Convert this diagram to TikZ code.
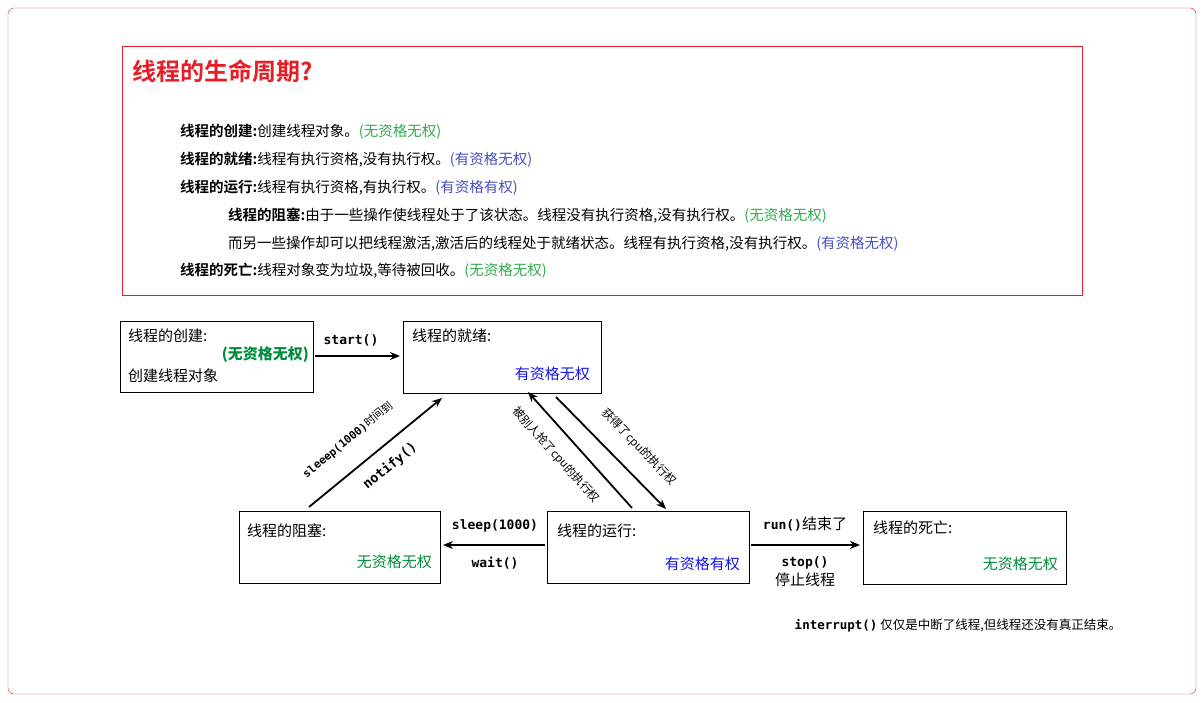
\documentclass[tikz,border=0pt]{standalone}
\usepackage{fontspec}
\setmainfont{Noto Sans CJK SC}
\setmonofont{DejaVu Sans Mono}
\newfontfamily\cjkb{Noto Sans CJK SC Bold}
\usetikzlibrary{arrows.meta}
\definecolor{tred}{RGB}{230,30,40}
\definecolor{tgreen}{RGB}{50,170,80}
\definecolor{tblue}{RGB}{70,80,190}
\definecolor{bgreen}{RGB}{0,140,60}
\definecolor{bblue}{RGB}{20,20,230}
\begin{document}
\begin{tikzpicture}[x=1pt,y=-1pt,
  arr/.style={-{Stealth[length=10pt,width=8pt]},line width=1.8pt},
  tx/.style={font=\fontsize{14.5}{16}\selectfont,anchor=west,inner sep=0},
  lb/.style={font=\fontsize{15}{17}\selectfont,inner sep=0},
  mb/.style={font=\ttfamily\bfseries\fontsize{13}{15}\selectfont,inner sep=0}]
\useasboundingbox (0,0) rectangle (1204,703);
\draw[tred,rounded corners=6pt] (8,8) rectangle (1196,694);
\draw[tred] (122,46) rectangle (1082,295);
\node[anchor=west,inner sep=0,text=tred,font=\cjkb\fontsize{24}{26}\selectfont] (title) at (132,71) {线程的生命周期?};
\node[tx] (l1) at (180,132) {{\cjkb 线程的创建:}创建线程对象。\textcolor{tgreen}{(无资格无权)}};
\node[tx] (l2) at (180,160) {{\cjkb 线程的就绪:}线程有执行资格,没有执行权。\textcolor{tblue}{(有资格无权)}};
\node[tx] (l3) at (180,188) {{\cjkb 线程的运行:}线程有执行资格,有执行权。\textcolor{tblue}{(有资格有权)}};
\node[tx] (l4) at (228,216) {{\cjkb 线程的阻塞:}由于一些操作使线程处于了该状态。线程没有执行资格,没有执行权。\textcolor{tgreen}{(无资格无权)}};
\node[tx] (l5) at (228,244) {而另一些操作却可以把线程激活,激活后的线程处于就绪状态。线程有执行资格,没有执行权。\textcolor{tblue}{(有资格无权)}};
\node[tx] (l6) at (180,271) {{\cjkb 线程的死亡:}线程对象变为垃圾,等待被回收。\textcolor{tgreen}{(无资格无权)}};
% state boxes
\draw[thick] (120,321) rectangle (313,392);
\node[lb,anchor=west] at (128,336) {线程的创建:};
\node[lb,anchor=east,text=bgreen] at (309,355) {\textbf{(无资格无权)}};
\node[lb,anchor=west] at (128,376) {创建线程对象};
\draw[thick] (403,321) rectangle (601,393);
\node[lb,anchor=west] at (412,336) {线程的就绪:};
\node[lb,anchor=east,text=bblue] at (590,374) {有资格无权};
\draw[thick] (239,511) rectangle (440,583);
\node[lb,anchor=west] at (247,531) {线程的阻塞:};
\node[lb,anchor=east,text=bgreen] at (432,562) {无资格无权};
\draw[thick] (547,511) rectangle (749,583);
\node[lb,anchor=west] at (557,531) {线程的运行:};
\node[lb,anchor=east,text=bblue] at (740,564) {有资格有权};
\draw[thick] (863,511) rectangle (1066,584);
\node[lb,anchor=west] at (873,528) {线程的死亡:};
\node[lb,anchor=east,text=bgreen] at (1058,564) {无资格无权};
% connectors
\coordinate (a1) at (315,356); \coordinate (a2) at (400,356);
\draw[arr] (a1) -- (a2);
\node[mb] at (351,340) {start()};
\coordinate (b1) at (309,507); \coordinate (b2) at (442,398);
\draw[arr] (b1) -- (b2);
\node[mb,rotate=39.3,font=\ttfamily\bfseries\fontsize{11}{13}\selectfont] at (348,440) {sleeep(1000)\textmd{\rmfamily 时间到}};
\node[mb,rotate=39.3,font=\ttfamily\bfseries\fontsize{13.5}{15}\selectfont] at (390,466) {notify()};
\coordinate (c1) at (632,508); \coordinate (c2) at (528,392);
\draw[arr] (c1) -- (c2);
\node[lb,rotate=-48,font=\fontsize{11.5}{12}\selectfont] at (556,455) {被别人抢了cpu的执行权};
\coordinate (d1) at (556,397); \coordinate (d2) at (666,509);
\draw[arr] (d1) -- (d2);
\node[lb,rotate=-46,font=\fontsize{11.5}{12}\selectfont] at (639,447) {获得了cpu的执行权};
\coordinate (e1) at (545,545); \coordinate (e2) at (443,545);
\draw[arr] (e1) -- (e2);
\node[mb] at (495,526) {sleep(1000)};
\node[mb] at (495,563) {wait()};
\coordinate (f1) at (751,545); \coordinate (f2) at (860,545);
\draw[arr] (f1) -- (f2);
\node[lb] at (805,524) {\ttfamily\bfseries\fontsize{13}{15}\selectfont run()\rmfamily\mdseries\fontsize{15}{17}\selectfont 结束了};
\node[mb] at (805,563) {stop()};
\node[lb] at (805,580) {停止线程};
\node[lb,font=\fontsize{12.5}{14}\selectfont] (note) at (958,626) {\ttfamily\bfseries interrupt()\rmfamily\mdseries\ 仅仅是中断了线程,但线程还没有真正结束。};
\end{tikzpicture}
\end{document}
